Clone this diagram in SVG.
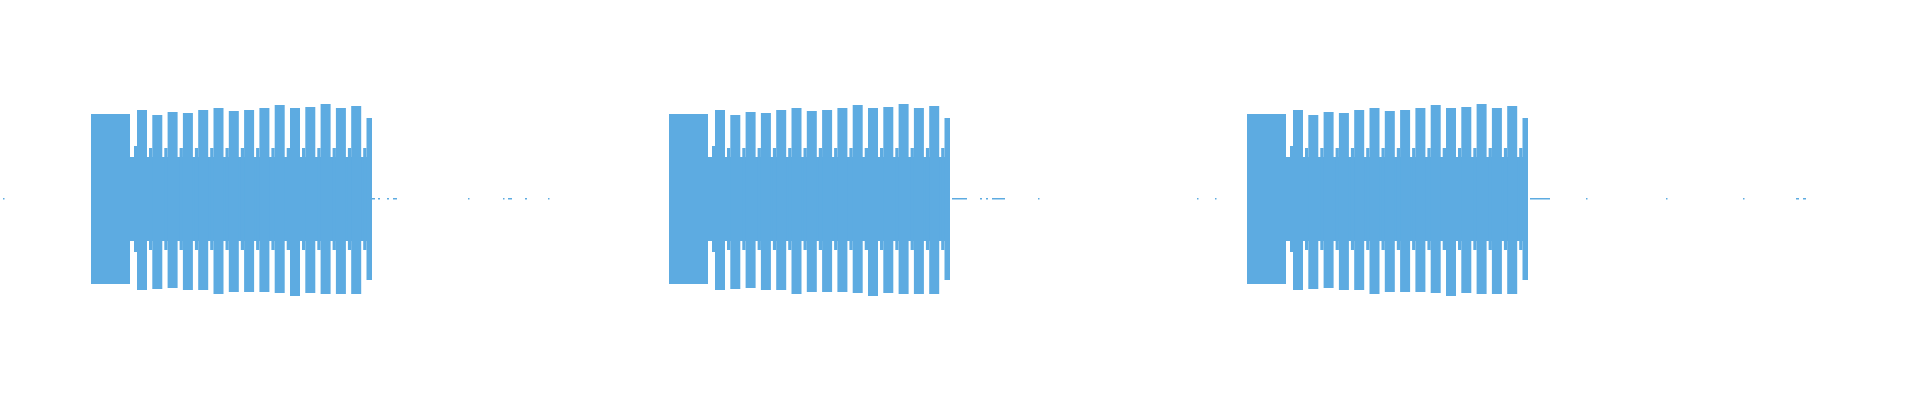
<svg xmlns="http://www.w3.org/2000/svg" width="1920" height="400" viewBox="0 0 1920 400">
<style>.w{fill:#5dabe1}</style>
<defs>
<g id="burst" class="w">
<rect x="91" y="157" width="281" height="84"/>
<rect x="91" y="114" width="39" height="170"/>
<rect x="134" y="146" width="3" height="106"/>
<rect x="137" y="110" width="10" height="180"/>
<rect x="152.3" y="115" width="10" height="174"/>
<rect x="167.6" y="112" width="10" height="176"/>
<rect x="182.9" y="113" width="10" height="177"/>
<rect x="198.2" y="110" width="10" height="180"/>
<rect x="213.5" y="108" width="10" height="186"/>
<rect x="228.8" y="111" width="10" height="181"/>
<rect x="244.1" y="110" width="10" height="182"/>
<rect x="259.4" y="108" width="10" height="184"/>
<rect x="274.7" y="105" width="10" height="188"/>
<rect x="290" y="108" width="10" height="188"/>
<rect x="305.3" y="107" width="10" height="186"/>
<rect x="320.6" y="104" width="10" height="190"/>
<rect x="335.9" y="108" width="10" height="186"/>
<rect x="351.2" y="106" width="10" height="188"/>
<rect x="366.5" y="118" width="5.5" height="162"/>
</g>
<g id="ramps" class="w">
<rect x="149" y="148" width="3.3" height="102"/>
<rect x="164.3" y="148" width="3.3" height="102"/>
<rect x="179.6" y="148" width="3.3" height="102"/>
<rect x="194.9" y="148" width="3.3" height="102"/>
<rect x="210.2" y="148" width="3.3" height="102"/>
<rect x="225.5" y="148" width="3.3" height="102"/>
<rect x="240.8" y="148" width="3.3" height="102"/>
<rect x="256.1" y="148" width="3.3" height="102"/>
<rect x="271.4" y="148" width="3.3" height="102"/>
<rect x="286.7" y="148" width="3.3" height="102"/>
<rect x="302" y="148" width="3.3" height="102"/>
<rect x="317.3" y="148" width="3.3" height="102"/>
<rect x="332.6" y="148" width="3.3" height="102"/>
<rect x="347.9" y="148" width="3.3" height="102"/>
<rect x="363.2" y="148" width="3.3" height="102"/>
</g>
</defs>
<use href="#burst"/><use href="#ramps"/>
<use href="#burst" x="578"/><use href="#ramps" x="578"/>
<use href="#burst" x="1156"/><use href="#ramps" x="1156"/>
<g class="w">
<rect x="3" y="198" width="1.5" height="1.5"/>
<rect x="372" y="198" width="3" height="1.5"/>
<rect x="378" y="198" width="2" height="1.5"/>
<rect x="387" y="198" width="2" height="1.5"/>
<rect x="393" y="198" width="4" height="1.5"/>
<rect x="468" y="198" width="1.5" height="1.5"/>
<rect x="503" y="198" width="1.5" height="1.5"/>
<rect x="508" y="198" width="4" height="1.5"/>
<rect x="525" y="198" width="2" height="1.5"/>
<rect x="548" y="198" width="1.5" height="1.5"/>
<rect x="952" y="198" width="15" height="1.5"/>
<rect x="980" y="198" width="2" height="1.5"/>
<rect x="986" y="198" width="2" height="1.5"/>
<rect x="992" y="198" width="13" height="1.5"/>
<rect x="1038" y="198" width="1.5" height="1.5"/>
<rect x="1197" y="198" width="1.5" height="1.5"/>
<rect x="1215" y="198" width="1.5" height="1.5"/>
<rect x="1530" y="198" width="20" height="1.5"/>
<rect x="1586" y="198" width="1.5" height="1.5"/>
<rect x="1666" y="198" width="1.5" height="1.5"/>
<rect x="1743" y="198" width="1.5" height="1.5"/>
<rect x="1796" y="198" width="3" height="1.5"/>
<rect x="1803" y="198" width="3" height="1.5"/>
</g>
</svg>
